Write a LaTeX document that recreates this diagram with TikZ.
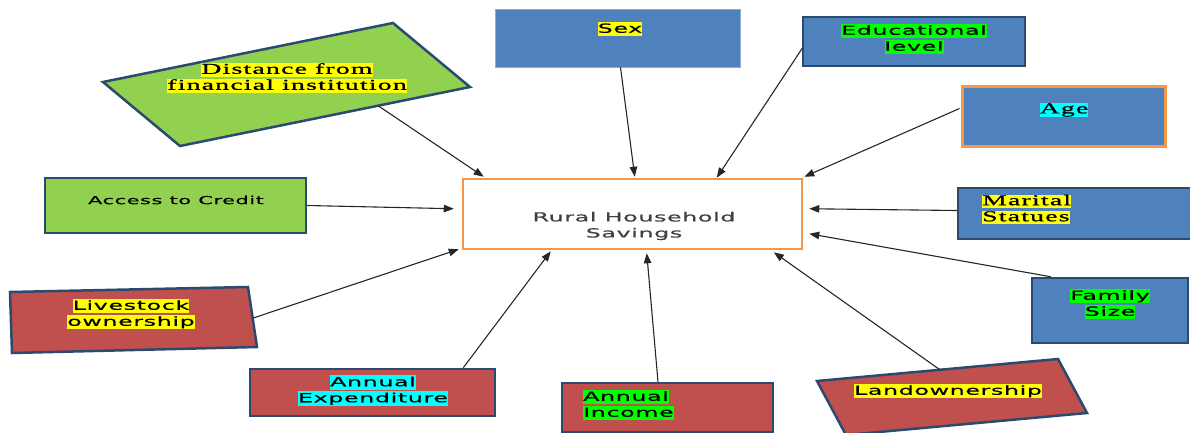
\documentclass[tikz,border=0pt]{standalone}
\usepackage{fontspec}
\usetikzlibrary{arrows.meta,calc}
\newfontfamily\sansF[FakeStretch=1.9,LetterSpace=5,FakeBold=0.6]{DejaVu Sans}
\newfontfamily\serifF[FakeStretch=1.85,LetterSpace=8,FakeBold=1]{Liberation Serif}
\newcommand\sfnt{\sansF\fontsize{12.5}{16}\selectfont}
\newcommand\sfntsm{\sansF\fontsize{11}{16}\selectfont}
\newcommand\rfnt{\serifF\fontsize{15}{16}\selectfont}
\newcommand\hls[2]{{\setlength\fboxsep{0pt}\colorbox{#1}{\rule[-3.5pt]{0pt}{14.5pt}#2}}}
\newcommand\hlr[2]{{\setlength\fboxsep{0pt}\colorbox{#1}{\rule[-3pt]{0pt}{13pt}#2}}}
\definecolor{cblue}{HTML}{4F81BD}
\definecolor{cgreen}{HTML}{92D050}
\definecolor{cred}{HTML}{C0504D}
\definecolor{corange}{HTML}{F79646}
\definecolor{cnavy}{HTML}{2A4A70}
\definecolor{hyel}{HTML}{FFFF00}
\definecolor{hgrn}{HTML}{00FF00}
\definecolor{hcyn}{HTML}{00FFFF}
\tikzset{
  bx/.style={draw=cnavy, line width=2.5pt, inner sep=0pt},
  ob/.style={draw=corange, line width=2.5pt, inner sep=0pt},
  lbl/.style={inner sep=0pt, align=center, text=black},
  conn/.style={draw=black!85, line width=1.1pt, -{Triangle[length=10pt,width=7.5pt]}}
}
\begin{document}
\begin{tikzpicture}[x=1pt,y=-1pt]
\useasboundingbox (0,0) rectangle (1190,433);
\clip (0,0) rectangle (1190,433);
% central
\node[ob, fill=white, minimum width=339pt, minimum height=70pt] (cen) at (632.5,214) {};
\node[lbl, font=\sfnt, text=black!75] (cenT) at (634,226) {Rural Household\\Savings};
% top boxes
\node[draw=cblue!65!white, line width=0.6pt, fill=cblue, minimum width=245pt, minimum height=58pt] (sex) at (617.5,38) {};
\node[lbl, font=\sfnt] (sexT) at (620,29) {\hls{hyel}{Sex}};
\node[bx, fill=cblue, minimum width=222pt, minimum height=49pt] (edu) at (914,41.5) {};
\node[lbl, font=\sfnt] (eduT) at (914,39) {\hls{hgrn}{Educational}\\\hls{hgrn}{level}};
\node[ob, line width=3pt, fill=cblue, minimum width=203pt, minimum height=59pt] (age) at (1063.5,116.5) {};
\node[lbl, font=\rfnt] (ageT) at (1064,110) {\hlr{hcyn}{Age}};
\node[bx, fill=cblue, minimum width=242pt, minimum height=51pt] (mar) at (1079,213.5) {};
\node[lbl, font=\rfnt, align=left, anchor=west] (marT) at (982,209.5) {\hlr{hyel}{Marital}\\\hlr{hyel}{Statues}};
\node[bx, fill=cblue, minimum width=156pt, minimum height=65pt] (fam) at (1110,310.5) {};
\node[lbl, font=\sfnt] (famT) at (1110,304) {\hls{hgrn}{Family}\\\hls{hgrn}{Size}};
% left
\node[bx, fill=cgreen, minimum width=261pt, minimum height=55pt] (acc) at (175.5,205.5) {};
\node[lbl, font=\sfntsm] (accT) at (176,200) {Access to Credit};
% distance parallelogram
\coordinate (d1) at (103,82);
\coordinate (d2) at (393,23);
\coordinate (d3) at (470,87);
\coordinate (d4) at (180,146);
\draw[bx, fill=cgreen] (d1) -- (d2) -- (d3) -- (d4) -- cycle;
\node[lbl, font=\rfnt] (distT) at (287,78) {\hlr{hyel}{Distance from}\\\hlr{hyel}{financial institution}};
\coordinate (distS) at ($(d4)!0.683!(d3)$);
% livestock
\coordinate (l1) at (10,292);
\coordinate (l2) at (248,287);
\coordinate (l3) at (257,347);
\coordinate (l4) at (12,353);
\draw[bx, fill=cred] (l1) -- (l2) -- (l3) -- (l4) -- cycle;
\node[lbl, font=\sfnt] (livT) at (131,314) {\hls{hyel}{Livestock}\\\hls{hyel}{ownership}};
\coordinate (livS) at ($(l2)!0.52!(l3)$);
% bottom
\node[bx, fill=cred, minimum width=245pt, minimum height=47pt] (exp) at (372.5,392.5) {};
\node[lbl, font=\sfnt] (expT) at (373,390.5) {\hls{hcyn}{Annual}\\\hls{hcyn}{Expenditure}};
\node[bx, fill=cred, minimum width=211pt, minimum height=49pt] (inc) at (667.5,407.5) {};
\node[lbl, font=\sfnt, align=left, anchor=west] (incT) at (583,405) {\hls{hgrn}{Annual}\\\hls{hgrn}{Income}};
% landownership
\coordinate (n1) at (817,381);
\coordinate (n2) at (1058,359);
\coordinate (n3) at (1087,413);
\coordinate (n4) at (846,435);
\draw[bx, fill=cred] (n1) -- (n2) -- (n3) -- (n4) -- cycle;
\node[lbl, font=\sfnt] (lanT) at (948,391) {\hls{hyel}{Landownership}};
\coordinate (lanS) at ($(n1)!0.51!(n2)$);
% connectors
\draw[conn] (distS) -- ($(cen.north west)+(22,-1)$);
\draw[conn] ($(sex.south)+(3,0)$) -- ($(cen.north west)+(173,-1)$);
\draw[conn] ($(edu.west)+(1,6)$) -- ($(cen.north west)+(255,0)$);
\draw[conn] ($(age.west)+(-1,-8)$) -- ($(cen.north east)+(1,-1)$);
\draw[conn] ($(mar.west)+(0,-3)$) -- ($(cen.north east)+(6,31)$);
\draw[conn] ($(fam.north west)+(20,0)$) -- ($(cen.north east)+(6,56)$);
\draw[conn] (lanS) -- ($(cen.south west)+(312,2)$);
\draw[conn] ($(inc.north)+(-9.5,0)$) -- ($(cen.south west)+(185,3)$);
\draw[conn] ($(exp.north east)+(-33,0)$) -- ($(cen.south west)+(89,1)$);
\draw[conn] (livS) -- ($(cen.south west)+(-3,-1)$);
\draw[conn] (acc.east) -- ($(cen.north west)+(-8,31)$);
\end{tikzpicture}
\end{document}
